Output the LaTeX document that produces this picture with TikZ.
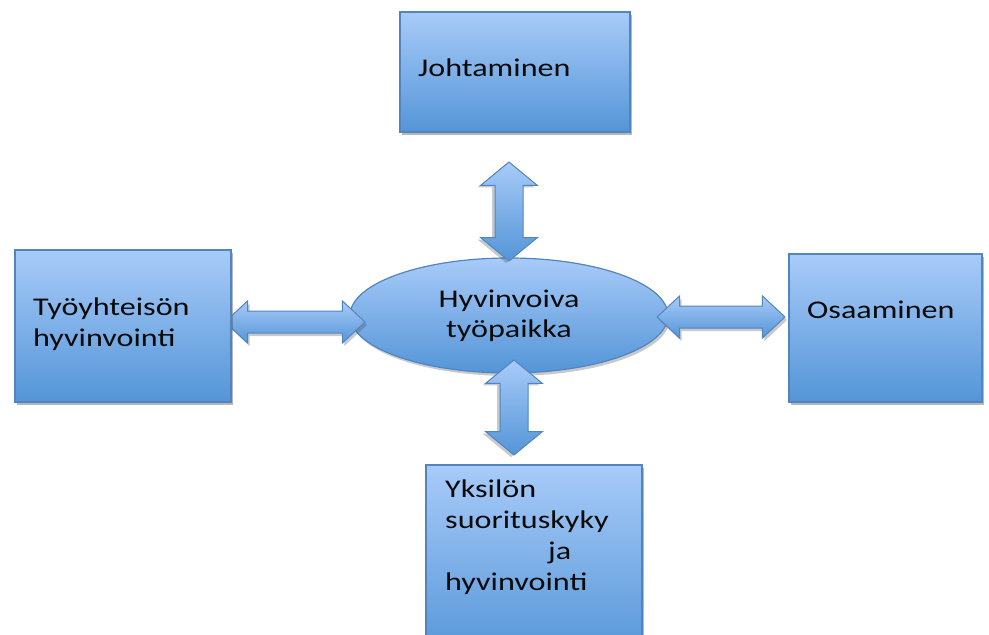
\documentclass[tikz,border=0pt]{standalone}
\usepackage{fontspec}
\setmainfont{Carlito}[FakeStretch=1.26]
\usetikzlibrary{shapes.geometric, shapes.arrows, shadows}
\definecolor{LiteBlue}{RGB}{168,203,249}
\definecolor{DeepBlue}{RGB}{84,149,215}
\definecolor{EdgeBlue}{RGB}{82,132,192}
\definecolor{InkBlack}{RGB}{10,10,10}

\begin{document}
\begin{tikzpicture}[
  x=1pt, y=-1pt,
  box/.style={draw=EdgeBlue, line width=1.2pt, top color=LiteBlue, bottom color=DeepBlue,
              inner sep=0pt, minimum width=#1,
              drop shadow={shadow xshift=2pt, shadow yshift=-3pt, opacity=0.4, fill=black!70}},
  hub/.style={ellipse, draw=EdgeBlue, line width=1.2pt, top color=LiteBlue, bottom color=DeepBlue,
              inner sep=0pt, minimum width=318pt, minimum height=115pt, align=center,
              font=\fontsize{25.5}{30}\selectfont, text=InkBlack,
              drop shadow={shadow xshift=2pt, shadow yshift=-3pt, opacity=0.3, fill=black!70}},
  txt/.style={inner sep=0pt, align=left, anchor=base west,
              font=\fontsize{25.5}{31}\selectfont, text=InkBlack},
  vdbl/.style={double arrow, rotate=90, draw=EdgeBlue, line width=1pt,
               top color=LiteBlue, bottom color=DeepBlue,
               inner xsep=0pt, inner ysep=13.5pt, minimum width=0pt, minimum height=#1,
               double arrow head extend=14.5pt, double arrow tip angle=101,
               drop shadow={shadow xshift=-3pt, shadow yshift=-2pt, opacity=0.3, fill=black!70}},
  hdbl/.style={double arrow, draw=EdgeBlue, line width=1pt,
               top color=LiteBlue, bottom color=DeepBlue,
               inner xsep=0pt, inner ysep=10.5pt, minimum width=0pt, minimum height=#1,
               double arrow head extend=10pt, double arrow tip angle=86,
               drop shadow={shadow xshift=2pt, shadow yshift=-3pt, opacity=0.3, fill=black!70}}
]
\useasboundingbox (0,0) rectangle (989,635);

% Centre
\node[hub] (hub) at (509,315.5) {Hyvinvoiva\\työpaikka};

% Arrows
\node[vdbl=99pt]  (arrN) at (509,211.5) {};
\node[vdbl=95pt]  (arrS) at (514,407.5) {};
\node[hdbl=140pt] (arrW) at (295,322) {};
\node[hdbl=128pt] (arrE) at (721,317) {};

% Boxes
\node[box=230pt, minimum height=120pt] (lead)  at (515,72)    {};
\node[box=216pt, minimum height=152pt] (comm)  at (123,326)   {};
\node[box=193pt, minimum height=148pt] (skill) at (885.5,328) {};
\node[box=216pt, minimum height=195pt] (indiv) at (534,562.5) {};

% Box texts (base = last line)
\node[txt] (leadtxt)  at (418,76)  {Johtaminen};
\node[txt] (commtxt)  at (33,346)  {Työyhteisön\\hyvinvointi};
\node[txt] (skilltxt) at (807,318) {Osaaminen};
\node[txt] (indivtxt) at (445,590) {Yksilön\\suorituskyky\\\hspace*{103pt}ja\\hyvinvointi};
\end{tikzpicture}
\end{document}
